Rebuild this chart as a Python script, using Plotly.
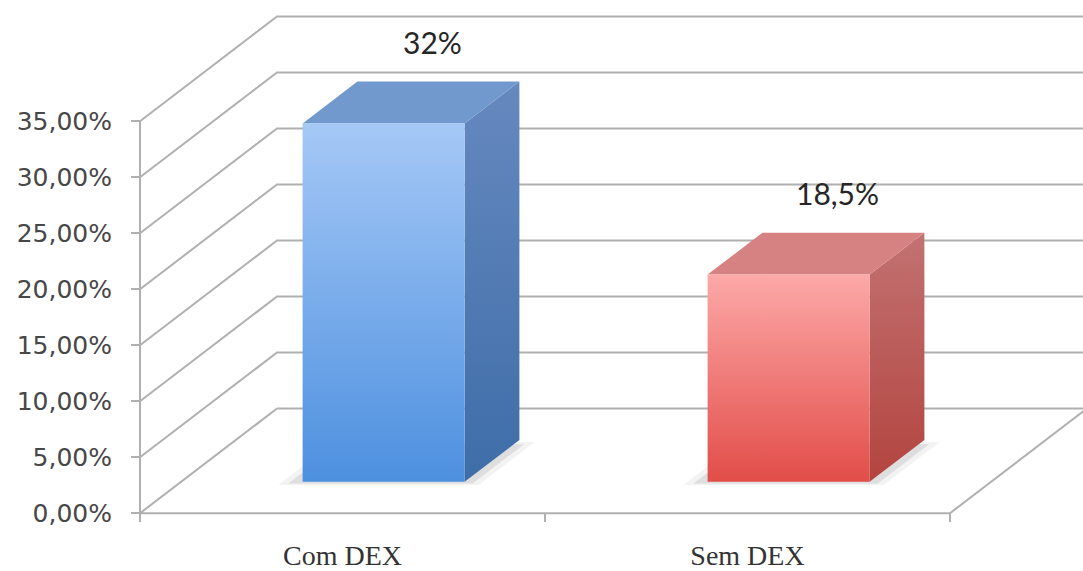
import plotly.graph_objects as go

# ---------------- data ----------------
categories = ["Com DEX", "Sem DEX"]
values = [32.0, 18.5]
value_labels = ["32%", "18,5%"]
y_ticks = [0, 5, 10, 15, 20, 25, 30, 35]
y_tick_labels = ["0,00%", "5,00%", "10,00%", "15,00%", "20,00%", "25,00%", "30,00%", "35,00%"]

# ---------------- styling / geometry ----------------
W, H = 1083, 571
PX_PER_CAT = 405.0      # horizontal pixels per category band
PX_PER_PCT = 11.24      # vertical pixels per 1 %
ORIGIN = (140, 515)     # pixel position of the front-left floor corner
DEPTH_PX = (137, 105)   # oblique depth vector (right, up) in pixels

DX = DEPTH_PX[0] / PX_PER_CAT
DY = DEPTH_PX[1] / PX_PER_PCT
XMIN = -ORIGIN[0] / PX_PER_CAT
XMAX = (W - ORIGIN[0]) / PX_PER_CAT
YMIN = -(H - ORIGIN[1]) / PX_PER_PCT
YMAX = ORIGIN[1] / PX_PER_PCT

BAR_X = (0.3, 0.7)       # bar extent within category band
BAR_D = (0.3, 0.7)       # bar extent in depth
N = len(categories)
YTOP = y_ticks[-1]

GRID = "#b0b0b0"
colors = [
    dict(front=("#4d90df", "#a5c8f6"), top="#7299cd", side=("#3e6da8", "#6689bf")),
    dict(front=("#e24d49", "#fca9a8"), top="#d78282", side=("#b3443f", "#c27272")),
]


def P(x, y, d):
    return x + d * DX, y + d * DY


fig = go.Figure()


def add_line(pts, color=GRID, width=2):
    xs = [p[0] for p in pts]
    ys = [p[1] for p in pts]
    fig.add_trace(go.Scatter(x=xs, y=ys, mode="lines",
                             line=dict(color=color, width=width),
                             hoverinfo="skip", showlegend=False))


def add_poly(pts, fill=None, grad=None):
    xs = [p[0] for p in pts] + [pts[0][0]]
    ys = [p[1] for p in pts] + [pts[0][1]]
    kw = dict(x=xs, y=ys, mode="lines", fill="toself",
              line=dict(width=0), hoverinfo="skip", showlegend=False)
    if grad is not None:
        kw["fillgradient"] = dict(type="vertical",
                                  colorscale=[[0, grad[0]], [1, grad[1]]])
        kw["fillcolor"] = grad[1]
    else:
        kw["fillcolor"] = fill
    fig.add_trace(go.Scatter(**kw))


# walls: side wall + back wall gridlines
for v in y_ticks:
    if v == 0:
        continue
    add_line([P(0, v, 0), P(0, v, 1), P(N, v, 1)])
# floor
add_line([P(0, 0, 1), P(0, 0, 0), P(N, 0, 0), P(N, 0, 1), P(0, 0, 1)])
# front vertical edge
add_line([P(0, 0, 0), P(0, YTOP, 0)])

# bars
for i, v in enumerate(values):
    c = colors[i]
    x0, x1 = i + BAR_X[0], i + BAR_X[1]
    d0, d1 = BAR_D
    # soft shadow on floor (two layers for a blur-like falloff)
    add_poly([P(x0 - 0.05, 0, d0 - 0.03), P(x1 + 0.045, 0, d0 - 0.03),
              P(x1 + 0.045, 0, d1 - 0.02), P(x0 - 0.05, 0, d1 - 0.02)],
             fill="rgba(160,160,160,0.12)")
    add_poly([P(x0 - 0.03, 0, d0 - 0.015), P(x1 + 0.025, 0, d0 - 0.015),
              P(x1 + 0.025, 0, d1 - 0.04), P(x0 - 0.03, 0, d1 - 0.04)],
             fill="rgba(130,130,130,0.18)")
    # side face
    add_poly([P(x1, 0, d0), P(x1, 0, d1), P(x1, v, d1), P(x1, v, d0)],
             grad=c["side"])
    # top face
    add_poly([P(x0, v, d0), P(x1, v, d0), P(x1, v, d1), P(x0, v, d1)],
             fill=c["top"])
    # front face
    add_poly([P(x0, 0, d0), P(x1, 0, d0), P(x1, v, d0), P(x0, v, d0)],
             grad=c["front"])
    # value label
    lx, ly = P(i + 0.5, v, d1)
    fig.add_annotation(x=lx, y=ly, text=value_labels[i], showarrow=False,
                       xanchor="center", yanchor="bottom", yshift=20, xshift=-6,
                       font=dict(family="Lato", size=30, color="#262626"))

fig.update_layout(
    width=W, height=H,
    margin=dict(l=0, r=0, t=0, b=0),
    paper_bgcolor="white", plot_bgcolor="white",
    showlegend=False,
    xaxis=dict(range=[XMIN, XMAX], anchor="free",
               position=(0 - YMIN) / (YMAX - YMIN),
               showgrid=False, zeroline=False, showline=False,
               tickvals=[i + 0.5 for i in range(N)], ticktext=categories,
               ticks="", ticklabelstandoff=23,
               minor=dict(tickvals=list(range(N + 1)), ticks="outside",
                          ticklen=8, tickcolor=GRID, tickwidth=2),
               tickfont=dict(family="Liberation Serif", size=28, color="#333333"),
               fixedrange=True),
    yaxis=dict(range=[YMIN, YMAX], anchor="free",
               position=(0 - XMIN) / (XMAX - XMIN),
               showgrid=False, zeroline=False, showline=False,
               tickvals=y_ticks, ticktext=y_tick_labels,
               ticks="outside", ticklen=9, tickcolor=GRID, tickwidth=2,
               ticklabelstandoff=14,
               tickfont=dict(family="DejaVu Sans", size=25, color="#474747"),
               fixedrange=True),
)

fig.write_html("out.html")
